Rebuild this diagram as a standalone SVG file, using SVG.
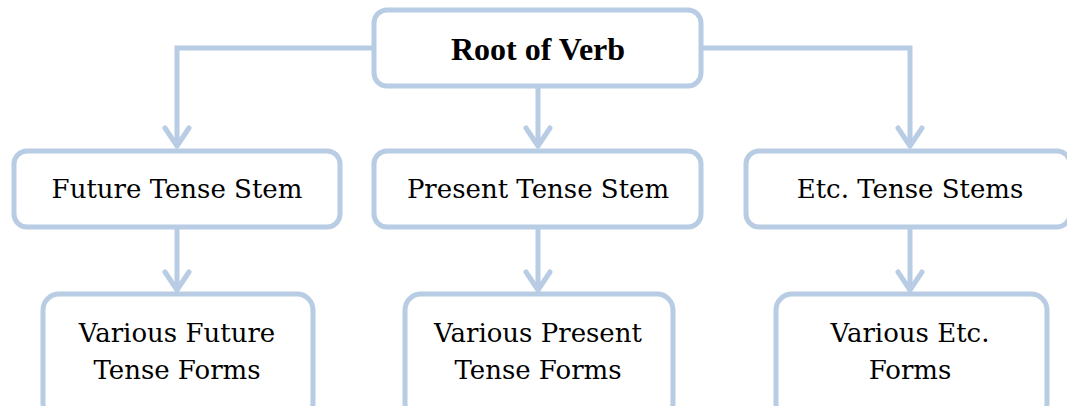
<svg xmlns="http://www.w3.org/2000/svg" width="1067" height="406" viewBox="0 0 1067 406">
<style>
.box{fill:#fff;stroke:#b8cce4;stroke-width:5}
.con{fill:none;stroke:#b8cce4;stroke-width:5;stroke-linejoin:miter}
.head{fill:none;stroke:#b8cce4;stroke-width:5;stroke-linecap:round;stroke-linejoin:round}
.t{font-family:"DejaVu Serif","Liberation Serif",serif;font-size:26px;fill:#000;text-anchor:middle}
.b{font-family:"Liberation Serif",serif;font-size:32px;font-weight:bold;fill:#000;text-anchor:middle}
</style>
<rect width="1067" height="406" fill="#fff"/>
<g id="connectors">
<path class="con" d="M374 48 H177 V146"/>
<path class="con" d="M538 88 V146"/>
<path class="con" d="M701 48 H910 V146"/>
<path class="con" d="M177 228 V290"/>
<path class="con" d="M538 228 V290"/>
<path class="con" d="M910 228 V290"/>
<path class="head" d="M165 128 L177 146 L189 128"/>
<path class="head" d="M526 128 L538 146 L550 128"/>
<path class="head" d="M898 128 L910 146 L922 128"/>
<path class="head" d="M165 272 L177 290 L189 272"/>
<path class="head" d="M526 272 L538 290 L550 272"/>
<path class="head" d="M898 272 L910 290 L922 272"/>
</g>
<g id="root"><rect class="box" x="374" y="10" width="327" height="76" rx="13"/><text class="b" x="538" y="60">Root of Verb</text></g>
<g id="future-stem"><rect class="box" x="14" y="151" width="326" height="76" rx="13"/><text class="t" x="177" y="198">Future Tense Stem</text></g>
<g id="present-stem"><rect class="box" x="374" y="151" width="327" height="76" rx="13"/><text class="t" x="538" y="198">Present Tense Stem</text></g>
<g id="etc-stems"><rect class="box" x="746" y="151" width="324" height="76" rx="13"/><text class="t" x="910" y="198">Etc. Tense Stems</text></g>
<g id="future-forms"><rect class="box" x="43" y="294" width="270" height="125" rx="16"/><text class="t" x="177" y="342">Various Future</text><text class="t" x="177" y="379">Tense Forms</text></g>
<g id="present-forms"><rect class="box" x="405" y="294" width="268" height="125" rx="16"/><text class="t" x="538" y="342">Various Present</text><text class="t" x="538" y="379">Tense Forms</text></g>
<g id="etc-forms"><rect class="box" x="776" y="294" width="271" height="125" rx="16"/><text class="t" x="910" y="342">Various Etc.</text><text class="t" x="910" y="379">Forms</text></g>
</svg>
